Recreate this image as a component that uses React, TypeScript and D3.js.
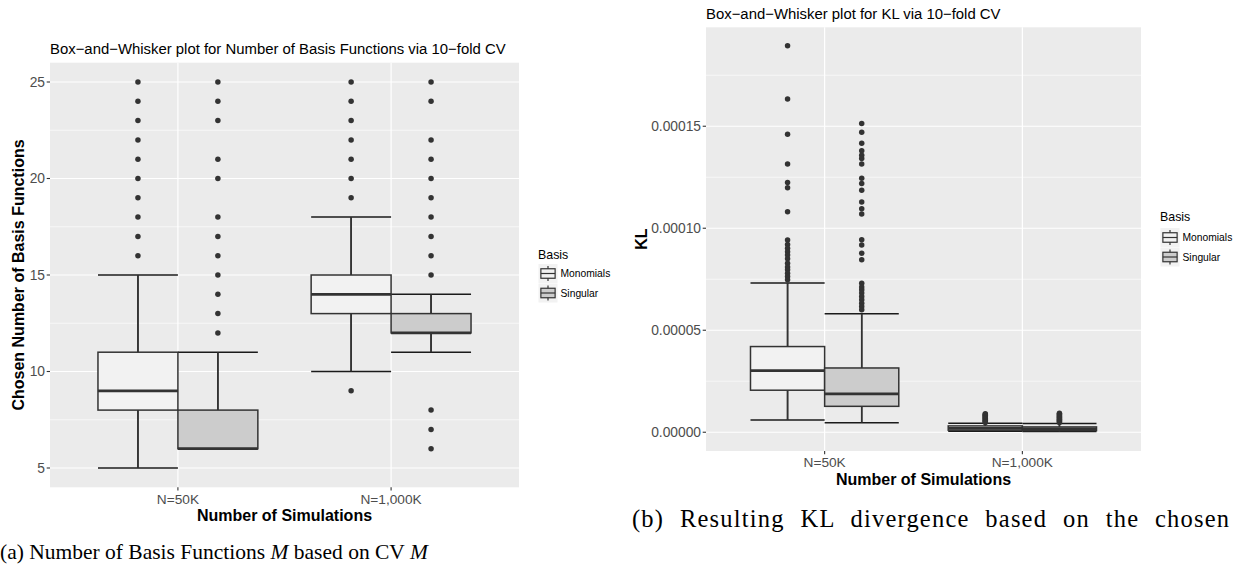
import React from "react";
import * as d3 from "d3";

// Categories and series
const groups = ["N=50K", "N=1,000K"];
const bases = ["Monomials", "Singular"];
const basisFills = ["#f2f2f2", "#cccccc"];

// Box stats per group: [lower whisker, Q1, median, Q3, upper whisker]
const countMonomialsStats = [
  [5, 8, 9, 11, 15],
  [10, 13, 14, 15, 18],
];
const countSingularStats = [
  [6, 6, 6, 8, 11],
  [11, 12, 12, 13, 14],
];
const countMonomialsOutliers = [
  [16, 17, 18, 19, 20, 21, 22, 23, 24, 25],
  [9, 19, 20, 21, 22, 23, 24, 25],
];
const countSingularOutliers = [
  [12, 13, 14, 15, 16, 17, 18, 20, 21, 23, 24, 25],
  [6, 7, 8, 15, 16, 17, 18, 19, 20, 21, 22, 24, 25],
];
const countTicks = [5, 10, 15, 20, 25];
const countMinorTicks = [7.5, 12.5, 17.5, 22.5];

const klMonomialsStats = [
  [6.0e-6, 2.06e-5, 3.02e-5, 4.2e-5, 7.32e-5],
  [0.5e-6, 1.0e-6, 1.9e-6, 3.1e-6, 4.4e-6],
];
const klSingularStats = [
  [4.7e-6, 1.27e-5, 1.88e-5, 3.15e-5, 5.81e-5],
  [0.3e-6, 0.8e-6, 1.6e-6, 2.6e-6, 4.3e-6],
];
const klMonomialsOutliers = [
  [1.894e-4, 1.634e-4, 1.461e-4, 1.315e-4, 1.224e-4, 1.198e-4, 1.081e-4, 9.42e-5, 9.2e-5,
   9.02e-5, 8.85e-5, 8.69e-5, 8.5e-5, 8.28e-5, 8.1e-5, 7.96e-5, 7.79e-5, 7.63e-5, 7.47e-5],
  [9.0e-6, 8.7e-6, 8.3e-6, 8.0e-6, 7.6e-6, 7.1e-6, 6.8e-6, 6.3e-6, 5.9e-6, 5.5e-6, 5.1e-6, 4.8e-6],
];
const klSingularOutliers = [
  [1.513e-4, 1.471e-4, 1.417e-4, 1.38e-4, 1.358e-4, 1.342e-4, 1.315e-4, 1.245e-4, 1.219e-4,
   1.186e-4, 1.129e-4, 1.095e-4, 1.07e-4, 9.43e-5, 9.18e-5, 8.77e-5, 8.45e-5, 7.3e-5, 7.12e-5,
   6.98e-5, 6.83e-5, 6.65e-5, 6.49e-5, 6.32e-5, 6.16e-5, 6.0e-5],
  [9.3e-6, 8.9e-6, 8.6e-6, 8.1e-6, 7.7e-6, 7.3e-6, 6.9e-6, 6.4e-6, 6.0e-6, 5.6e-6, 5.2e-6, 4.8e-6],
];
const klTicks = [0, 5e-5, 1e-4, 1.5e-4];
const klTickLabels = ["0.00000", "0.00005", "0.00010", "0.00015"];
const klMinorTicks = [2.5e-5, 7.5e-5, 1.25e-4, 1.75e-4];

const SANS = "'Liberation Sans', Arial, Helvetica, sans-serif";
const SERIF = "'Liberation Serif', 'DejaVu Serif', serif";

type PanelProps = {
  title: string;
  yTitle: string;
  left: number;
  right: number;
  top: number;
  bottom: number;
  yDomain: [number, number];
  ticks: number[];
  tickLabels: string[];
  minorTicks: number[];
  stats: number[][][];
  outliers: number[][][];
  titleBaseline: number;
  xTickBaseline: number;
  xTitleBaseline: number;
  yTitleX: number;
  legendX: number;
  legendTitleBaseline: number;
  legendKeyTop: number;
};

function Panel(p: PanelProps) {
  const x = d3.scaleLinear().domain([0.4, 2.6]).range([p.left, p.right]);
  const y = d3.scaleLinear().domain(p.yDomain).range([p.bottom, p.top]);
  const halfUnit = 0.375;
  const keySize = 19;
  const keyStep = 19.5;

  const boxEdges = (gi: number, bi: number) => {
    const x0 = x(gi + 1 + (bi === 0 ? -halfUnit : 0));
    const x1 = x(gi + 1 + (bi === 0 ? 0 : halfUnit));
    return [x0, x1, (x0 + x1) / 2];
  };

  return (
    <g>
      <text x={p.left} y={p.titleBaseline} fontFamily={SANS} fontSize={14.9} fill="#000">
        {p.title}
      </text>
      <rect x={p.left} y={p.top} width={p.right - p.left} height={p.bottom - p.top} fill="#ebebeb" />
      {p.minorTicks.map((t) => (
        <line key={"mn" + t} x1={p.left} x2={p.right} y1={y(t)} y2={y(t)} stroke="#fff" strokeWidth={0.6} />
      ))}
      {p.ticks.map((t) => (
        <line key={"mj" + t} x1={p.left} x2={p.right} y1={y(t)} y2={y(t)} stroke="#fff" strokeWidth={1.2} />
      ))}
      {groups.map((g, i) => (
        <line key={"gx" + g} x1={x(i + 1)} x2={x(i + 1)} y1={p.top} y2={p.bottom} stroke="#fff" strokeWidth={1.2} />
      ))}

      {/* whiskers with end caps, drawn beneath the boxes */}
      {bases.map((b, bi) =>
        groups.map((g, gi) => {
          const s = p.stats[bi][gi];
          const [x0, x1, xc] = boxEdges(gi, bi);
          return (
            <g key={"w" + b + g} stroke="#1a1a1a" strokeWidth={1.5}>
              <line x1={xc} x2={xc} y1={y(s[0])} y2={y(s[1])} />
              <line x1={xc} x2={xc} y1={y(s[3])} y2={y(s[4])} />
              <line x1={x0} x2={x1} y1={y(s[0])} y2={y(s[0])} />
              <line x1={x0} x2={x1} y1={y(s[4])} y2={y(s[4])} />
            </g>
          );
        })
      )}

      {/* boxes, medians and outliers */}
      {bases.map((b, bi) =>
        groups.map((g, gi) => {
          const s = p.stats[bi][gi];
          const [x0, x1, xc] = boxEdges(gi, bi);
          return (
            <g key={"b" + b + g}>
              <line x1={xc} x2={xc} y1={y(s[0])} y2={y(s[1])} stroke="#333" strokeWidth={1.5} />
              <line x1={xc} x2={xc} y1={y(s[3])} y2={y(s[4])} stroke="#333" strokeWidth={1.5} />
              <rect
                x={x0}
                y={y(s[3])}
                width={x1 - x0}
                height={y(s[1]) - y(s[3])}
                fill={basisFills[bi]}
                stroke="#333"
                strokeWidth={1.5}
              />
              <line x1={x0} x2={x1} y1={y(s[2])} y2={y(s[2])} stroke="#333" strokeWidth={2.8} />
              {p.outliers[bi][gi].map((v, k) => (
                <circle key={k} cx={xc} cy={y(v)} r={2.75} fill="#333" />
              ))}
            </g>
          );
        })
      )}

      {/* y axis */}
      {p.ticks.map((t, i) => (
        <g key={"yt" + t}>
          <line x1={p.left - 3.3} x2={p.left} y1={y(t)} y2={y(t)} stroke="#333" strokeWidth={1.1} />
          <text
            x={p.left - 5}
            y={y(t)}
            dy="0.35em"
            textAnchor="end"
            fontFamily={SANS}
            fontSize={13.8}
            fill="#4d4d4d"
          >
            {p.tickLabels[i]}
          </text>
        </g>
      ))}
      {/* x axis */}
      {groups.map((g, i) => (
        <g key={"xt" + g}>
          <line x1={x(i + 1)} x2={x(i + 1)} y1={p.bottom} y2={p.bottom + 3.3} stroke="#333" strokeWidth={1.1} />
          <text
            x={x(i + 1)}
            y={p.xTickBaseline}
            textAnchor="middle"
            fontFamily={SANS}
            fontSize={13.7}
            fill="#4d4d4d"
          >
            {g}
          </text>
        </g>
      ))}
      <text
        x={(p.left + p.right) / 2}
        y={p.xTitleBaseline}
        textAnchor="middle"
        fontFamily={SANS}
        fontWeight="bold"
        fontSize={16}
        fill="#000"
      >
        Number of Simulations
      </text>
      <text
        transform={`translate(${p.yTitleX},${(p.top + p.bottom) / 2}) rotate(-90)`}
        textAnchor="middle"
        dy="0.35em"
        fontFamily={SANS}
        fontWeight="bold"
        fontSize={16}
        fill="#000"
      >
        {p.yTitle}
      </text>

      {/* legend */}
      <text x={p.legendX} y={p.legendTitleBaseline} fontFamily={SANS} fontSize={12.4} fill="#000">
        Basis
      </text>
      {bases.map((b, bi) => {
        const kx = p.legendX + 0.5;
        const ky = p.legendKeyTop + bi * keyStep;
        return (
          <g key={"lg" + b}>
            <rect x={kx} y={ky} width={keySize} height={keySize} fill="#f2f2f2" />
            <line x1={kx + keySize / 2} x2={kx + keySize / 2} y1={ky + keySize * 0.1} y2={ky + keySize * 0.9} stroke="#333" strokeWidth={1.2} />
            <rect
              x={kx + keySize * 0.125}
              y={ky + keySize * 0.25}
              width={keySize * 0.75}
              height={keySize * 0.5}
              fill={basisFills[bi]}
              stroke="#333"
              strokeWidth={1.2}
            />
            <line x1={kx + keySize * 0.125} x2={kx + keySize * 0.875} y1={ky + keySize / 2} y2={ky + keySize / 2} stroke="#333" strokeWidth={1.2} />
            <text x={kx + keySize + 3} y={ky + keySize / 2} dy="0.35em" fontFamily={SANS} fontSize={10.3} fill="#000">
              {b}
            </text>
          </g>
        );
      })}
    </g>
  );
}

export default function App() {
  return (
    <svg
      width={1242}
      height={575}
      style={{ position: "absolute", left: 0, top: 0, background: "#fff", overflow: "hidden" }}
    >
      <rect width={1242} height={575} fill="#fff" />
      <Panel
        title="Box−and−Whisker plot for Number of Basis Functions via 10−fold CV"
        yTitle="Chosen Number of Basis Functions"
        left={50}
        right={519}
        top={62.7}
        bottom={487.3}
        yDomain={[4, 26]}
        ticks={countTicks}
        tickLabels={countTicks.map(String)}
        minorTicks={countMinorTicks}
        stats={[countMonomialsStats, countSingularStats]}
        outliers={[countMonomialsOutliers, countSingularOutliers]}
        titleBaseline={53.5}
        xTickBaseline={503.5}
        xTitleBaseline={520.8}
        yTitleX={18}
        legendX={538}
        legendTitleBaseline={258.5}
        legendKeyTop={264}
      />
      <Panel
        title="Box−and−Whisker plot for KL via 10−fold CV"
        yTitle="KL"
        left={706}
        right={1141}
        top={27.3}
        bottom={451}
        yDomain={[-9.2e-6, 1.985e-4]}
        ticks={klTicks}
        tickLabels={klTickLabels}
        minorTicks={klMinorTicks}
        stats={[klMonomialsStats, klSingularStats]}
        outliers={[klMonomialsOutliers, klSingularOutliers]}
        titleBaseline={18.5}
        xTickBaseline={467.3}
        xTitleBaseline={484.5}
        yTitleX={641}
        legendX={1160}
        legendTitleBaseline={221}
        legendKeyTop={228}
      />
      {/* first caption line runs past the right edge */}
      <text
        x={632}
        y={527}
        fontFamily={SERIF}
        fontSize={24.5}
        letterSpacing={1.2}
        wordSpacing={8.5}
        fill="#000"
      >
        (b)  Resulting KL divergence based on the chosen <tspan fontStyle="italic">M</tspan>
      </text>
      <text x={0} y={559} fontFamily={SERIF} fontSize={21.5} fill="#000">
        (a)  Number of Basis Functions <tspan fontStyle="italic">M</tspan> based on CV{" "}
        <tspan fontStyle="italic">M</tspan>
      </text>
    </svg>
  );
}
